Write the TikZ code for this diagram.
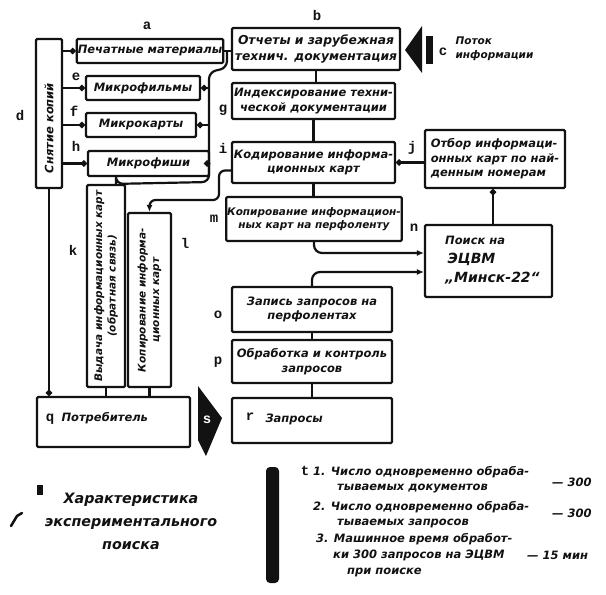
\documentclass[tikz,border=0pt]{standalone}
\usepackage{fontspec}
\setmainfont{DejaVu Sans}
\newfontfamily\labf{Liberation Mono}
\usetikzlibrary{arrows.meta}
\definecolor{ink}{RGB}{18,18,18}
\newcommand\bx{\bfseries\itshape\fontsize{11.5}{14.5}\selectfont}
\newcommand\bxs{\bfseries\itshape\fontsize{10.5}{13.5}\selectfont}
\newcommand\bxl{\bfseries\itshape\fontsize{11.5}{14}\selectfont}
\tikzset{
  every node/.style={text=ink},
  box/.style={draw=ink, line width=2.2pt, rounded corners=1.2pt, inner sep=1pt, align=center, font=\bx},
  conn/.style={draw=ink, line width=2.2pt},
  lab/.style={font=\labf\bfseries\fontsize{14}{14}\selectfont, inner sep=0pt},
  dotend/.style={-{Circle[length=6pt]}},
  arrend/.style={-{Latex[length=7pt,width=6pt]}},
  lst/.style={font=\bxl, anchor=west, inner sep=0pt},
}
\begin{document}
\begin{tikzpicture}[x=1pt,y=-1pt]
\useasboundingbox (0,0) rectangle (606,595);
\fill[white] (0,0) rectangle (606,595);

% left column
\node[box, minimum width=26, minimum height=149] (d) at (49,113.5) {};
\node[rotate=90, font=\bx] (dt) at (49,128) {Снятие копий};
\node[box, minimum width=144, minimum height=24] (a) at (150,51) {Печатные материалы};
\node[box, minimum width=114, minimum height=24] (e) at (143,88) {Микрофильмы};
\node[box, minimum width=110, minimum height=24] (f) at (141,125) {Микрокарты};
\node[box, minimum width=121, minimum height=25] (h) at (148.5,163.5) {Микрофиши};

% centre column
\node[box, font=\bfseries\itshape\fontsize{12.3}{15.5}\selectfont, minimum width=168, minimum height=42] (b) at (316,49) {Отчеты и зарубежная\\технич. документация};
\node[box, minimum width=163, minimum height=36] (g) at (313.5,101) {Индексирование техни-\\ческой документации};
\node[box, minimum width=163, minimum height=41] (i) at (313.5,162.5) {Кодирование информа-\\ционных карт};
\node[box, font=\bxs, minimum width=164, minimum height=44] (m) at (314,219) {Копирование информацион-\\ных карт на перфоленту};
\node[box, minimum width=160, minimum height=45] (o) at (312,309.5) {Запись запросов на\\перфолентах};
\node[box, minimum width=160, minimum height=43] (p) at (312,361.5) {Обработка и контроль\\запросов};
\node[box, minimum width=160, minimum height=45] (r) at (312,420.5) {};
\node[font=\bx, anchor=west] (rt) at (262,419) {Запросы};
\node[box, minimum width=153, minimum height=50] (q) at (113.5,422) {};
\node[font=\bx, anchor=west] (qt) at (58,418) {Потребитель};

% right column
\node[box, align=left, minimum width=140, minimum height=58] (j) at (495,159) {Отбор информаци-\\онных карт по най-\\денным номерам};
\node[box, minimum width=127, minimum height=72] (n) at (488.5,261) {};
\node[anchor=north west, align=left, inner sep=0pt, font=\bfseries\itshape\fontsize{14}{19}\selectfont] (nt) at (445,236)
  {{\bx Поиск на}\\\,ЭЦВМ\\„Минск-22“};

% vertical boxes
\node[box, minimum width=38, minimum height=202] (k) at (106,286) {};
\node[rotate=90, align=center, font=\bxs] (kt) at (106,286) {Выдача информационных карт\\(обратная связь)};
\node[box, minimum width=43, minimum height=174] (l) at (149.5,300) {};
\node[rotate=90, align=center, font=\bxs] (lt) at (149.5,300) {Копирование информа-\\ционных карт};

% coordinates
\coordinate (bus) at (209,0);
\coordinate (kx) at (116,0);
\coordinate (jx) at (493,0);
\coordinate (ibend) at (219,200);
\coordinate (abend) at (227,51);

% connectors: d to sources
\draw[conn, dotend] (d.east |- a.west) -- (a.west);
\draw[conn, dotend] (d.east |- e.west) -- (e.west);
\draw[conn, dotend] (d.east |- f.west) -- (f.west);
\draw[conn, dotend] (d.east |- h.west) -- (h.west);

% right side bus
\draw[conn] (a.east) -- (abend) -- (b.west |- abend);
\draw[conn, rounded corners=7pt] (abend) -- (abend |- {(0,68)}) -- (bus |- {(0,72)}) -- (bus |- {(0,182)}) -- (k.north -| kx |- {(0,182)}) -- (k.north -| kx);
\draw[conn, dotend] (bus |- e.east) -- (e.east);
\draw[conn, dotend] (bus |- f.east) -- (f.east);
\draw[conn, dotend] (bus |- h.east) -- (h.east);

% centre chain
\draw[conn] (b.south) -- (b.south |- g.north);
\draw[conn] (g.south) -- (g.south |- i.north);
\draw[conn] (i.south) -- (i.south |- m.north);
\draw[conn] (o.south) -- (o.south |- p.north);
\draw[conn] (p.south) -- (p.south |- r.north);

% to and from the computer
\draw[conn, rounded corners=8pt, arrend] (m.south) |- ([yshift=8pt]n.west);
\draw[conn, rounded corners=8pt, arrend] (o.north) |- ([yshift=-11pt]n.west);
\draw[conn, dotend] (n.north -| jx) -- (j.south -| jx);
\draw[conn, dotend] (j.west |- i.east) -- (i.east);

% coding to l
\draw[conn, rounded corners=6pt, arrend] ([yshift=-8pt]i.west) -| (ibend) -| (l.north);

% to consumer
\draw[conn, dotend] (d.south) -- (d.south |- q.north);
\draw[conn] (k.south) -- (k.south |- q.north);
\draw[conn] (l.south) -- (l.south |- q.north);

% big arrows
\fill[ink] (405,50) -- (422,26) -- (422,73) -- cycle;
\fill[ink] (426,36) rectangle (433,64);
\fill[ink] (198,386) -- (222,418) -- (206,456) -- (198,440) -- cycle;
\node[lab, text=white] (s) at (207,420) {s};

% labels
\node[lab] (la) at (147,26) {a};
\node[lab] (lb) at (317,15) {b};
\node[lab] (lc) at (443,52) {c};
\node[font=\bxs, align=left, anchor=west] (ct) at (452,49) {Поток\\информации};
\node[lab] (ld) at (20,115) {d};
\node[lab] (le) at (76,77) {e};
\node[lab] (lf) at (74,111) {f};
\node[lab] (lg) at (223,110) {g};
\node[lab] (lh) at (76,146) {h};
\node[lab] (li) at (223,148) {i};
\node[lab] (lj) at (412,148) {j};
\node[lab] (lk) at (73,250) {k};
\node[lab] (ll) at (185,243) {l};
\node[lab] (lm) at (214,219) {m};
\node[lab] (ln) at (414,228) {n};
\node[lab] (lo) at (218,315) {o};
\node[lab] (lp) at (218,362) {p};
\node[lab] (lq) at (50,419) {q};
\node[lab] (lr) at (250,417) {r};

% legend
\fill[ink] (37,485) rectangle (43,495);
\draw[ink, line width=2.5pt, line cap=round] (11,526) -- (17,516) -- (22,513);
\node[align=center, font=\bfseries\itshape\fontsize{14.3}{23}\selectfont] (leg) at (131,521) {Характеристика\\экспериментального\\поиска};
\fill[ink, rounded corners=4pt] (266,467) rectangle (279,583);

\node[lab] (lt2) at (305,471) {t};
\node[lst] at (313,472) {1. Число одновременно обраба-};
\node[lst] at (337,489) {тываемых документов};
\node[lst] at (552,482) {— 300};
\node[lst] at (313,507) {2. Число одновременно обраба-};
\node[lst] at (337,523) {тываемых запросов};
\node[lst] at (552,513) {— 300};
\node[lst] at (316,539) {3. Машинное время обработ-};
\node[lst] at (333,555) {ки 300 запросов на ЭЦВМ};
\node[lst] at (527,555) {— 15 мин};
\node[lst] at (347,572) {при поиске};
\end{tikzpicture}
\end{document}
